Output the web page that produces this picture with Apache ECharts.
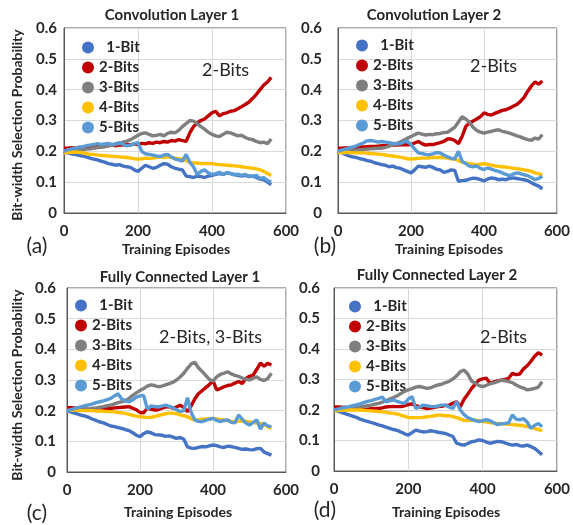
<!DOCTYPE html>
<html>
<head>
<meta charset="utf-8">
<script src="https://cdn.jsdelivr.net/npm/echarts@6/dist/echarts.min.js"></script>
<style>html,body{margin:0;padding:0;background:#fff}#c{width:573px;height:525px}</style>
</head>
<body>
<div id="c"></div>
<script>
const seriesNames = ['1-Bit','2-Bits','3-Bits','4-Bits','5-Bits'];
const panelTitles = ['Convolution Layer 1','Convolution Layer 2','Fully Connected Layer 1','Fully Connected Layer 2'];
const panelNotes = ['2-Bits','2-Bits','2-Bits, 3-Bits','2-Bits'];
const panelLetters = ['(a)','(b)','(c)','(d)'];
const xTicks = [0,200,400,600];
const yTicks = [0,0.1,0.2,0.3,0.4,0.5,0.6];
const episodes = [0,10,20,30,40,50,60,70,80,90,100,110,120,130,140,150,160,170,180,190,200,210,220,230,240,250,260,270,280,290,300,310,320,330,340,350,360,370,380,390,400,410,420,430,440,450,460,470,480,490,500,510,520,530,540,550,560];

// (a) Convolution Layer 1
const conv1_1bit = [.200,.195,.192,.190,.187,.185,.182,.178,.175,.172,.168,.165,.160,.158,.155,.157,.152,.150,.148,.140,.135,.145,.155,.150,.145,.148,.155,.160,.158,.150,.145,.142,.140,.120,.118,.115,.120,.118,.115,.120,.122,.125,.128,.125,.130,.128,.125,.122,.120,.122,.118,.120,.115,.110,.108,.100,.092];
const conv1_2bit = [.210,.210,.212,.210,.213,.212,.215,.214,.216,.215,.218,.217,.219,.220,.218,.221,.220,.222,.221,.224,.222,.226,.224,.228,.226,.230,.228,.232,.230,.235,.233,.238,.235,.232,.260,.280,.292,.300,.305,.315,.325,.330,.315,.322,.325,.330,.332,.338,.345,.352,.360,.372,.385,.400,.415,.425,.440];
const conv1_3bit = [.200,.200,.202,.204,.203,.205,.207,.208,.210,.212,.213,.215,.218,.220,.222,.226,.230,.233,.238,.245,.252,.258,.260,.255,.250,.252,.255,.250,.258,.262,.260,.268,.280,.290,.300,.298,.290,.280,.272,.262,.255,.250,.248,.255,.262,.260,.255,.250,.252,.245,.240,.238,.232,.228,.230,.225,.240];
const conv1_4bit = [.195,.196,.197,.198,.197,.195,.193,.190,.190,.188,.187,.186,.185,.184,.183,.182,.181,.180,.178,.176,.175,.176,.178,.177,.178,.180,.182,.180,.183,.180,.178,.176,.175,.170,.165,.162,.162,.160,.161,.160,.160,.158,.157,.156,.155,.154,.153,.152,.150,.148,.147,.145,.143,.140,.135,.128,.122];
const conv1_5bit = [.200,.205,.208,.210,.213,.215,.218,.220,.222,.225,.222,.224,.226,.222,.225,.228,.222,.218,.220,.225,.228,.200,.192,.190,.188,.185,.183,.188,.190,.182,.175,.172,.168,.190,.165,.150,.125,.135,.140,.130,.125,.128,.132,.126,.130,.128,.124,.126,.122,.125,.120,.118,.122,.112,.115,.105,.100];

// (b) Convolution Layer 2
const conv2_1bit = [.200,.196,.190,.185,.182,.180,.176,.174,.170,.168,.163,.160,.157,.155,.150,.152,.147,.145,.140,.135,.130,.140,.152,.150,.148,.152,.148,.142,.140,.132,.135,.140,.138,.103,.105,.106,.110,.113,.112,.108,.104,.110,.114,.112,.108,.110,.108,.112,.114,.112,.110,.108,.105,.098,.092,.087,.078];
const conv2_2bit = [.210,.210,.211,.212,.212,.213,.214,.214,.215,.216,.216,.217,.218,.218,.219,.220,.220,.221,.222,.221,.222,.227,.232,.225,.220,.222,.222,.225,.228,.232,.240,.240,.235,.225,.248,.280,.292,.298,.305,.312,.325,.320,.318,.323,.328,.333,.335,.340,.346,.352,.362,.375,.395,.412,.425,.418,.428];
const conv2_3bit = [.200,.200,.201,.202,.203,.204,.205,.206,.207,.208,.209,.210,.210,.213,.217,.221,.225,.230,.236,.242,.248,.254,.259,.256,.253,.255,.254,.257,.258,.261,.262,.270,.278,.295,.312,.305,.295,.278,.268,.262,.259,.262,.265,.268,.270,.265,.262,.259,.255,.250,.247,.242,.238,.236,.243,.240,.254];
const conv2_4bit = [.195,.196,.196,.196,.195,.195,.195,.195,.194,.193,.192,.191,.190,.188,.186,.185,.183,.181,.179,.176,.175,.176,.177,.178,.178,.179,.180,.180,.181,.180,.178,.176,.175,.170,.165,.162,.160,.158,.157,.158,.160,.158,.155,.153,.151,.150,.149,.147,.145,.144,.142,.140,.138,.135,.130,.127,.124];
const conv2_5bit = [.200,.204,.207,.211,.214,.218,.223,.228,.234,.235,.233,.230,.232,.230,.228,.226,.224,.225,.230,.233,.222,.208,.195,.193,.190,.189,.192,.196,.195,.188,.182,.178,.175,.200,.168,.160,.152,.150,.153,.145,.141,.146,.142,.138,.135,.130,.125,.121,.126,.130,.128,.124,.121,.115,.108,.112,.119];

// (c) Fully Connected Layer 1
const fc1_1bit = [.200,.196,.192,.189,.185,.182,.178,.172,.168,.163,.160,.155,.150,.148,.145,.142,.138,.135,.128,.120,.115,.125,.131,.128,.122,.121,.120,.116,.118,.114,.110,.112,.107,.082,.078,.077,.080,.083,.082,.085,.088,.086,.082,.080,.084,.083,.080,.077,.074,.075,.073,.072,.076,.077,.065,.060,.055];
const fc1_2bit = [.210,.210,.209,.208,.207,.206,.204,.202,.203,.205,.206,.207,.207,.209,.210,.211,.212,.213,.208,.203,.194,.193,.208,.205,.202,.203,.208,.212,.213,.208,.212,.218,.210,.197,.215,.238,.255,.265,.275,.285,.298,.268,.272,.278,.282,.284,.290,.295,.289,.305,.312,.316,.335,.355,.345,.354,.349];
const fc1_3bit = [.200,.201,.202,.203,.204,.205,.206,.208,.209,.211,.213,.216,.218,.222,.226,.229,.233,.240,.250,.258,.266,.272,.280,.284,.282,.278,.280,.284,.288,.292,.300,.310,.322,.338,.352,.358,.340,.328,.315,.302,.296,.310,.318,.322,.327,.320,.315,.312,.306,.303,.300,.306,.310,.302,.298,.305,.322];
const fc1_4bit = [.200,.201,.201,.201,.200,.200,.200,.200,.199,.199,.198,.197,.197,.196,.194,.193,.191,.188,.185,.182,.180,.179,.178,.178,.181,.184,.187,.190,.192,.192,.190,.186,.184,.180,.174,.170,.170,.172,.173,.174,.175,.173,.171,.170,.168,.165,.164,.166,.167,.165,.163,.161,.160,.158,.155,.148,.142];
const fc1_5bit = [.200,.203,.207,.210,.213,.216,.219,.222,.226,.229,.232,.236,.240,.248,.255,.238,.232,.229,.235,.244,.248,.250,.205,.215,.214,.212,.215,.218,.214,.210,.203,.197,.200,.242,.195,.170,.165,.164,.168,.172,.175,.168,.164,.168,.170,.162,.160,.186,.172,.160,.153,.162,.170,.140,.160,.150,.148];

// (d) Fully Connected Layer 2
const fc2_1bit = [.200,.196,.192,.188,.184,.180,.176,.170,.166,.163,.159,.155,.151,.148,.144,.140,.136,.133,.128,.122,.118,.126,.134,.131,.128,.129,.132,.130,.127,.125,.123,.118,.113,.091,.087,.085,.090,.096,.098,.102,.100,.095,.091,.094,.097,.096,.092,.088,.085,.087,.083,.082,.085,.080,.074,.064,.053];
const fc2_2bit = [.210,.210,.209,.208,.207,.206,.204,.203,.202,.203,.204,.205,.205,.207,.210,.211,.212,.211,.211,.214,.218,.220,.214,.211,.208,.205,.206,.209,.211,.212,.215,.216,.222,.227,.211,.235,.252,.270,.285,.298,.302,.304,.288,.292,.295,.298,.300,.304,.320,.316,.318,.335,.345,.360,.376,.388,.380];
const fc2_3bit = [.200,.201,.203,.204,.206,.207,.209,.210,.212,.214,.216,.219,.222,.226,.231,.236,.241,.247,.254,.261,.266,.270,.275,.277,.274,.271,.273,.278,.282,.285,.290,.294,.302,.312,.326,.331,.318,.295,.288,.280,.277,.281,.286,.289,.293,.298,.296,.293,.290,.282,.276,.272,.266,.268,.271,.275,.293];
const fc2_4bit = [.197,.198,.199,.200,.200,.200,.200,.200,.199,.198,.197,.196,.195,.194,.192,.190,.189,.187,.183,.179,.176,.175,.175,.175,.176,.178,.179,.181,.184,.183,.181,.181,.178,.175,.171,.166,.165,.166,.167,.165,.162,.161,.159,.157,.156,.155,.154,.153,.152,.151,.150,.148,.146,.143,.140,.136,.132];
const fc2_5bit = [.200,.203,.206,.209,.211,.214,.217,.220,.224,.228,.231,.235,.238,.242,.227,.230,.233,.228,.224,.222,.236,.244,.205,.210,.216,.214,.212,.211,.213,.216,.216,.210,.205,.227,.200,.185,.175,.170,.165,.162,.165,.168,.165,.158,.152,.155,.156,.158,.184,.170,.168,.172,.160,.140,.150,.156,.145];

const panelData = [
  [conv1_1bit, conv1_2bit, conv1_3bit, conv1_4bit, conv1_5bit],
  [conv2_1bit, conv2_2bit, conv2_3bit, conv2_4bit, conv2_5bit],
  [fc1_1bit, fc1_2bit, fc1_3bit, fc1_4bit, fc1_5bit],
  [fc2_1bit, fc2_2bit, fc2_3bit, fc2_4bit, fc2_5bit]
];

const colors = ['#4472C4','#C00000','#7F7F7F','#FFC000','#5B9BD5'];
const FONT = 'Lato, "Open Sans", sans-serif';
const TXT = '#262626';

// layout for each panel
const layout = [
  {grid:{left:64, top:28, width:222, height:185}, yMargin:7, legend:{left:77, top:35}, title:[172,15], note:[202,70], xname:[176,249], letter:[37,246], yname:[17,125]},
  {grid:{left:338, top:28, width:224, height:185}, yMargin:16, legend:{left:351, top:33}, title:[434,15], note:[470,66], xname:[449,249], letter:[325,246], yname:null},
  {grid:{left:67, top:288, width:219, height:184}, yMargin:11, legend:{left:70, top:293}, title:[180,277], note:[159,337], xname:[178,512], letter:[37,513], yname:[17,385]},
  {grid:{left:334, top:288, width:228, height:183}, yMargin:14, legend:{left:344, top:294}, title:[437,275], note:[480,337], xname:[446,512], letter:[325,510], yname:null}
];

const grids = [], xAxes = [], yAxes = [], series = [], legends = [], graphics = [];
layout.forEach((L, p) => {
  grids.push(Object.assign({show:true, borderColor:'#595959', borderWidth:1, backgroundColor:'#fff'}, L.grid));
  xAxes.push({
    gridIndex:p, type:'value', min:xTicks[0], max:xTicks[xTicks.length-1], interval:xTicks[1]-xTicks[0],
    axisLine:{show:true, lineStyle:{color:'#595959', width:1}}, axisTick:{show:false},
    splitLine:{show:true, lineStyle:{color:'#d9d9d9', width:1}},
    axisLabel:{fontFamily:FONT, fontWeight:'bold', fontSize:15, color:TXT, margin:11}
  });
  yAxes.push({
    gridIndex:p, type:'value', min:yTicks[0], max:yTicks[yTicks.length-1], interval:0.1,
    axisLine:{show:true, lineStyle:{color:'#595959', width:1}}, axisTick:{show:false},
    splitLine:{show:true, lineStyle:{color:'#d9d9d9', width:1}},
    axisLabel:{fontFamily:FONT, fontWeight:'bold', fontSize:15, color:TXT, margin:L.yMargin,
      formatter: v => (Math.abs(v) < 1e-9 ? '0' : v.toFixed(1))}
  });
  panelData[p].forEach((vals, s) => {
    series.push({
      name: seriesNames[s], type:'line', xAxisIndex:p, yAxisIndex:p,
      data: episodes.map((e, i) => [e, vals[i]]),
      showSymbol:false, symbol:'circle', smooth:false,
      lineStyle:{color:colors[s], width:3.4}, itemStyle:{color:colors[s]},
      z: 2 + s
    });
  });
  legends.push({
    orient:'vertical', left:L.legend.left, top:L.legend.top,
    itemWidth:12, itemHeight:12, itemGap:5, icon:'circle',
    data: seriesNames,
    formatter: n => (n === '1-Bit' ? '  ' + n : n),
    textStyle:{fontFamily:FONT, fontWeight:'bold', fontSize:15, lineHeight:14, color:TXT}
  });
  graphics.push({type:'text', x:L.title[0], y:L.title[1], z:100,
    style:{text:panelTitles[p], font:'bold 15px ' + FONT, fill:TXT, align:'center', verticalAlign:'middle', textAlign:'center', textVerticalAlign:'middle'}});
  graphics.push({type:'text', x:L.note[0], y:L.note[1], z:100,
    style:{text:panelNotes[p], font:'18px ' + FONT, fill:TXT, align:'left', verticalAlign:'middle', textAlign:'left', textVerticalAlign:'middle'}});
  graphics.push({type:'text', x:L.xname[0], y:L.xname[1], z:100,
    style:{text:'Training Episodes', font:'bold 14px ' + FONT, fill:TXT, align:'center', verticalAlign:'middle', textAlign:'center', textVerticalAlign:'middle'}});
  graphics.push({type:'text', x:L.letter[0], y:L.letter[1], z:100,
    style:{text:panelLetters[p], font:'21px ' + FONT, fill:TXT, align:'center', verticalAlign:'middle', textAlign:'center', textVerticalAlign:'middle'}});
  if (L.yname) {
    graphics.push({type:'text', x:L.yname[0], y:L.yname[1], rotation:Math.PI/2, z:100,
      style:{text:'Bit-width Selection Probability', font:'bold 14px ' + FONT, fill:TXT, align:'center', verticalAlign:'middle', textAlign:'center', textVerticalAlign:'middle'}});
  }
});

const chart = echarts.init(document.getElementById('c'), null, {renderer:'canvas'});
chart.setOption({
  animation:false,
  backgroundColor:'#fff',
  grid:grids, xAxis:xAxes, yAxis:yAxes, series:series, legend:legends,
  graphic:{elements:graphics}
});
</script>
</body>
</html>
